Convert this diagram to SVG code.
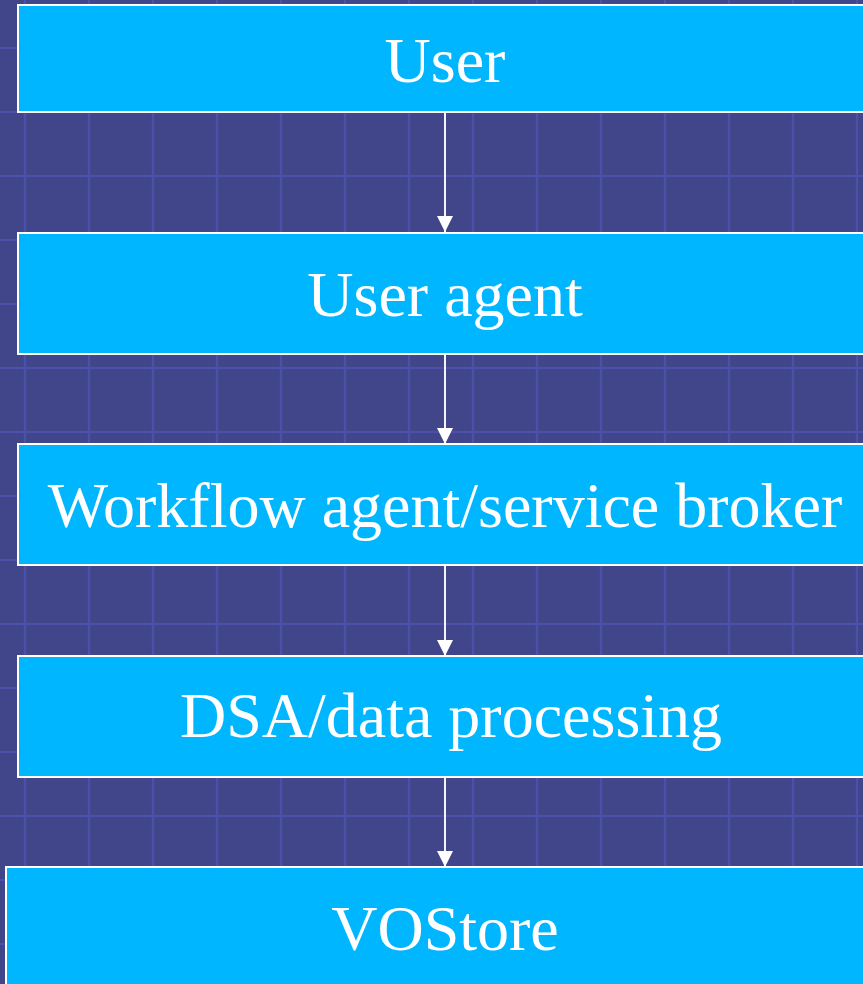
<svg xmlns="http://www.w3.org/2000/svg" width="863" height="984" viewBox="0 0 863 984">
  <defs>
    <!-- grid tile: lines through the middle so the stroke is not clipped -->
    <pattern id="grid" x="-7" y="16" width="64" height="64" patternUnits="userSpaceOnUse">
      <path d="M32 0V64M0 32H64" fill="none" stroke="#4b50aa" stroke-width="2.2"/>
    </pattern>
    <marker id="head" markerWidth="16" markerHeight="16" refX="16" refY="8" orient="auto" markerUnits="userSpaceOnUse">
      <path d="M0 0L16 8L0 16Z" fill="#ffffff"/>
    </marker>
    <style>
      .box { fill: #00b6ff; stroke: #ffffff; stroke-width: 2; }
      .label { font-family: "Liberation Serif", "Times New Roman", serif; font-size: 64px; fill: #ffffff; text-anchor: middle; }
      .link { stroke: #f4f4f8; stroke-width: 2; fill: none; marker-end: url(#head); }
    </style>
  </defs>

  <!-- background with grid -->
  <rect x="0" y="0" width="863" height="984" fill="#41458a"/>
  <rect x="0" y="0" width="863" height="984" fill="url(#grid)"/>

  <g id="connectors">
    <line class="link" x1="445" y1="113" x2="445" y2="232"/>
    <line class="link" x1="445" y1="355" x2="445" y2="444"/>
    <line class="link" x1="445" y1="566" x2="445" y2="656"/>
    <line class="link" x1="445" y1="778" x2="445" y2="867"/>
  </g>

  <g id="user">
    <rect class="box" x="18" y="5" width="870" height="107"/>
    <text class="label" x="445" y="82">User</text>
  </g>

  <g id="user-agent">
    <rect class="box" x="18" y="233" width="870" height="121"/>
    <text class="label" x="445" y="316">User agent</text>
  </g>

  <g id="workflow-agent">
    <rect class="box" x="18" y="444" width="870" height="121"/>
    <text class="label" x="445" y="527">Workflow agent/service broker</text>
  </g>

  <g id="dsa">
    <rect class="box" x="18" y="656" width="870" height="121"/>
    <text class="label" x="451" y="737">DSA/data processing</text>
  </g>

  <g id="vostore">
    <rect class="box" x="6" y="867" width="880" height="140"/>
    <text class="label" x="445" y="950">VOStore</text>
  </g>
</svg>
